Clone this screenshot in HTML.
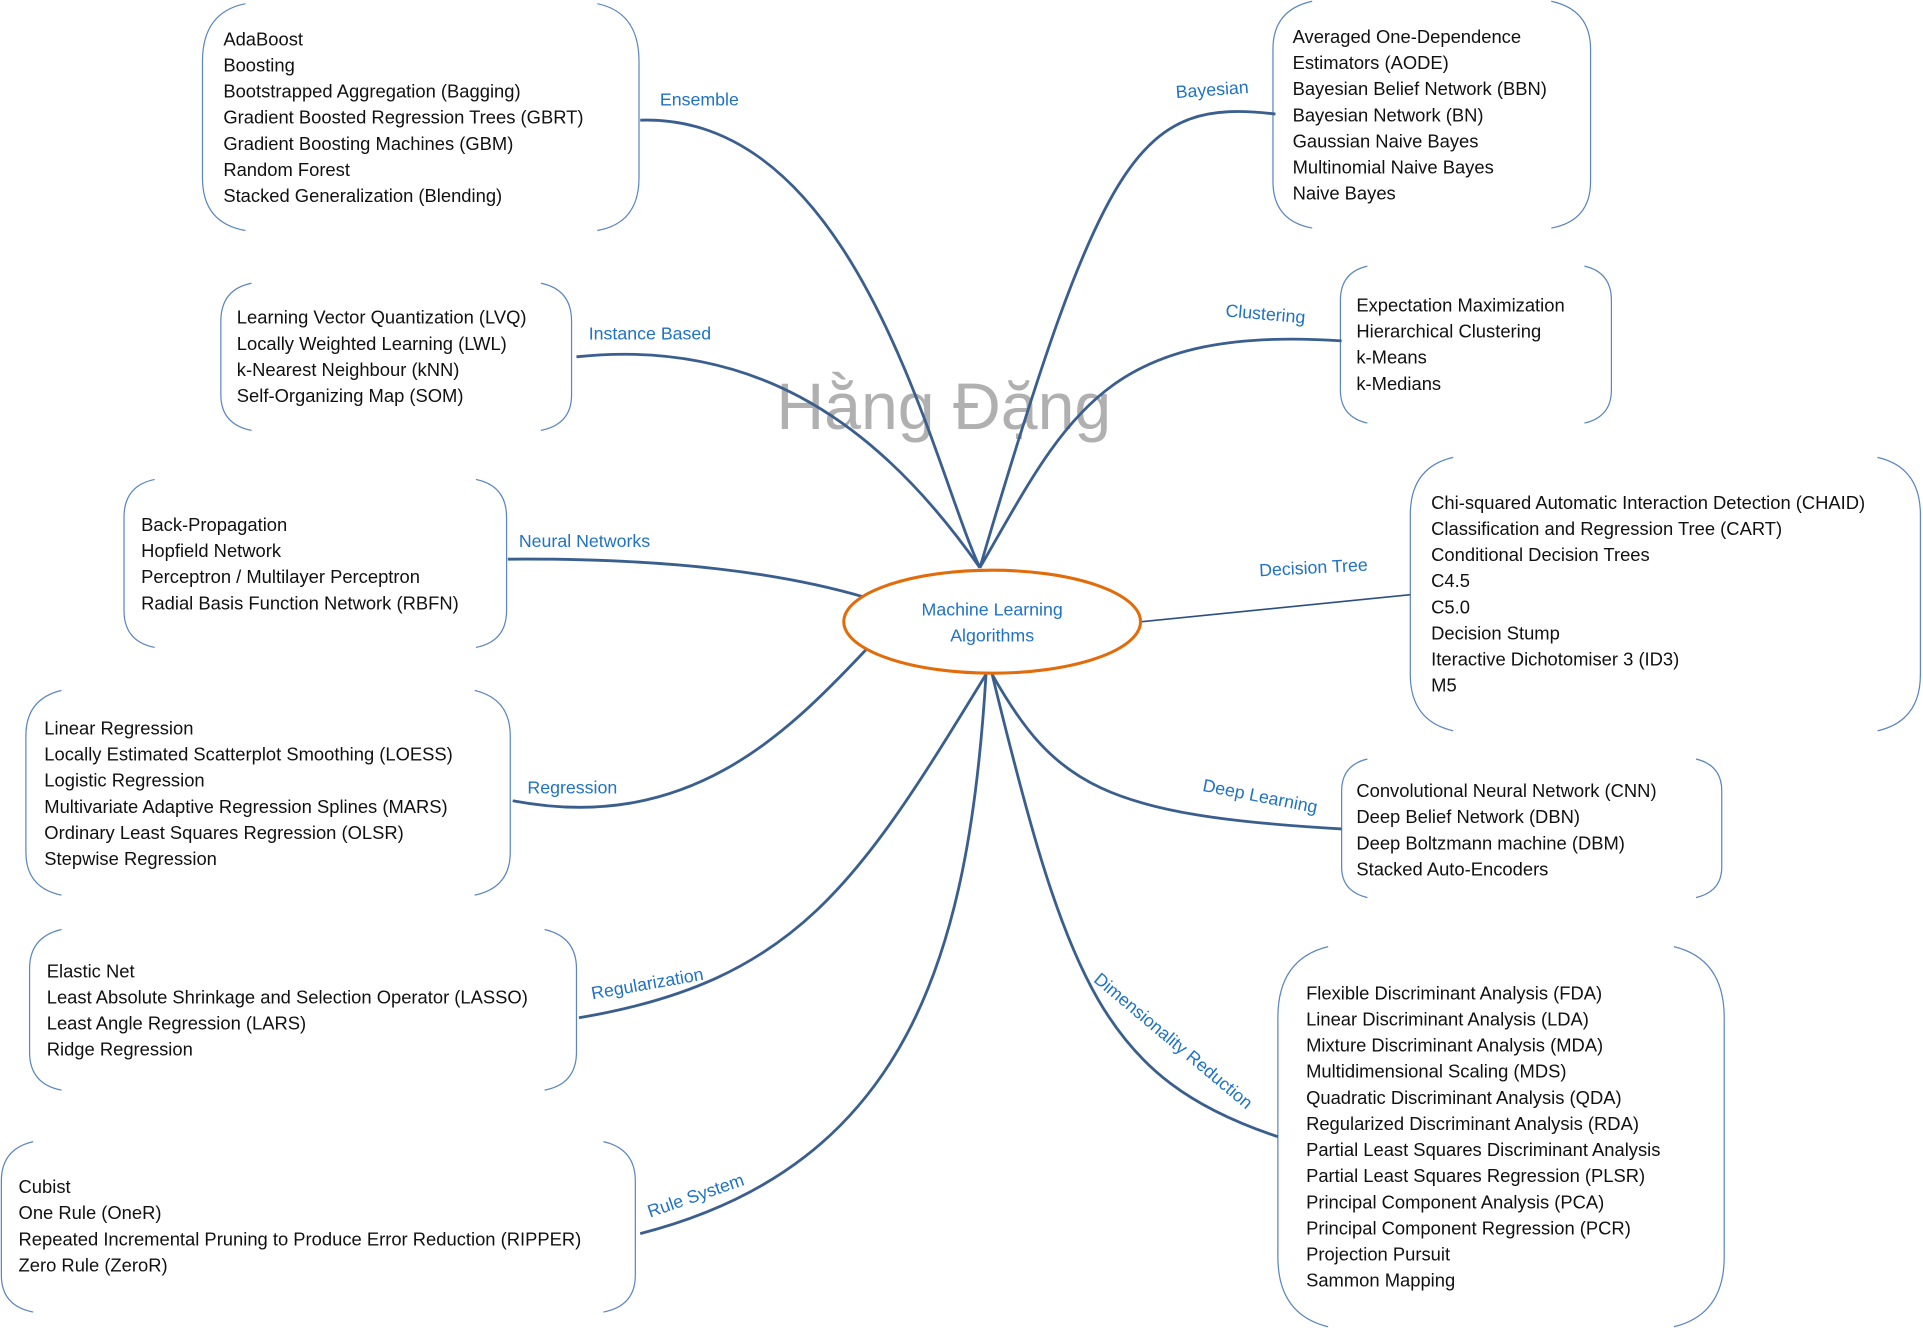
<!DOCTYPE html>
<html><head><meta charset="utf-8"><style>
html,body{margin:0;padding:0;background:#fff}
svg{display:block}
.t{font-family:"Liberation Sans",sans-serif;font-size:15px;fill:#111}
.l{font-family:"Liberation Sans",sans-serif;font-size:14.5px;fill:#1f72c4}
.b{fill:none;stroke:#5b86c0;stroke-width:1}
.c{fill:none;stroke:#3a5f8f;stroke-width:2.3}
</style></head><body>
<svg width="1923" height="1328" viewBox="0 0 1568 1083" xmlns="http://www.w3.org/2000/svg">
<text x="633" y="350" style="font-family:'Liberation Sans',sans-serif;font-size:54px;fill:#b0b0b0">Hằng Đặng</text>

<g class="b">
<path d="M200,3 Q165,10 165,50 L165,145 Q165,182 200,188 M487,3 Q521,10 521,50 L521,145 Q521,182 487,188"/>
<path d="M205,231 Q180,236 180,262 L180,322 Q180,346 205,351 M441,231 Q466,236 466,262 L466,322 Q466,346 441,351"/>
<path d="M126,391 Q101,396 101,422 L101,498 Q101,523 126,528 M388,391 Q413,396 413,422 L413,498 Q413,523 388,528"/>
<path d="M50,563 Q21,570 21,600 L21,695 Q21,724 50,730 M387,563 Q416,570 416,600 L416,695 Q416,724 387,730"/>
<path d="M50,758 Q24,764 24,790 L24,858 Q24,884 50,889 M444,758 Q470,764 470,790 L470,858 Q470,884 444,889"/>
<path d="M27,931 Q1,937 1,963 L1,1040 Q1,1065 27,1070 M492,931 Q518,937 518,963 L518,1040 Q518,1065 492,1070"/>
<path d="M1070,1 Q1038,8 1038,40 L1038,148 Q1038,180 1070,186 M1265,1 Q1297,8 1297,40 L1297,148 Q1297,180 1265,186"/>
<path d="M1115,217 Q1093,222 1093,245 L1093,318 Q1093,340 1115,345 M1292,217 Q1314,222 1314,245 L1314,318 Q1314,340 1292,345"/>
<path d="M1185,373 Q1150,381 1150,420 L1150,550 Q1150,588 1185,596 M1531,373 Q1566,381 1566,420 L1566,550 Q1566,588 1531,596"/>
<path d="M1115,619 Q1094,624 1094,645 L1094,707 Q1094,727 1115,732 M1383,619 Q1404,624 1404,645 L1404,707 Q1404,727 1383,732"/>
<path d="M1083,772 Q1042,782 1042,830 L1042,1025 Q1042,1072 1083,1082 M1365,772 Q1406,782 1406,830 L1406,1025 Q1406,1072 1365,1082"/>
</g>

<g class="c">
<path d="M522,98 C700,92 760,380 799,463"/>
<path d="M470,291 C620,275 720,350 799,463"/>
<path d="M414,456 C550,455 640,468 705,487"/>
<path d="M418,653 C560,680 640,600 706,530"/>
<path d="M472,830 C650,800 700,720 804,550"/>
<path d="M522,1006 C740,950 790,780 804,550"/>
<path d="M1040,93 C930,80 900,120 799,463"/>
<path d="M1094,278 C900,265 870,340 799,463"/>
<path d="M1094,676 C900,665 860,640 809,550"/>
<path d="M1042,927 C900,880 870,800 809,550"/>
</g>
<path d="M931,507 L1150,485" stroke="#2c4f80" stroke-width="1.3" fill="none"/>
<ellipse cx="809" cy="507" rx="121" ry="42" fill="#fff" stroke="#e36c0a" stroke-width="2.5"/>
<text class="l" x="809" y="502" text-anchor="middle">Machine Learning</text>
<text class="l" x="809" y="523" text-anchor="middle">Algorithms</text>

<text class="l" x="538" y="86">Ensemble</text>
<text class="l" x="480" y="277">Instance Based</text>
<text class="l" x="423" y="446">Neural Networks</text>
<text class="l" x="430" y="647">Regression</text>
<text class="l" x="483" y="815" transform="rotate(-10 483 815)">Regularization</text>
<text class="l" x="530" y="993" transform="rotate(-19 530 993)">Rule System</text>
<text class="l" x="959" y="80" transform="rotate(-4 959 80)">Bayesian</text>
<text class="l" x="999" y="258" transform="rotate(5 999 258)">Clustering</text>
<text class="l" x="1027" y="470" transform="rotate(-3 1027 470)">Decision Tree</text>
<text class="l" x="980" y="645" transform="rotate(11 980 645)">Deep Learning</text>
<text class="l" x="891" y="800" transform="rotate(40 891 800)">Dimensionality Reduction</text>

<text class="t" x="182" y="37">AdaBoost<tspan x="182" dy="21.3">Boosting</tspan><tspan x="182" dy="21.3">Bootstrapped Aggregation (Bagging)</tspan><tspan x="182" dy="21.3">Gradient Boosted Regression Trees (GBRT)</tspan><tspan x="182" dy="21.3">Gradient Boosting Machines (GBM)</tspan><tspan x="182" dy="21.3">Random Forest</tspan><tspan x="182" dy="21.3">Stacked Generalization (Blending)</tspan></text>
<text class="t" x="193" y="264">Learning Vector Quantization (LVQ)<tspan x="193" dy="21.3">Locally Weighted Learning (LWL)</tspan><tspan x="193" dy="21.3">k-Nearest Neighbour (kNN)</tspan><tspan x="193" dy="21.3">Self-Organizing Map (SOM)</tspan></text>
<text class="t" x="115" y="433">Back-Propagation<tspan x="115" dy="21.3">Hopfield Network</tspan><tspan x="115" dy="21.3">Perceptron / Multilayer Perceptron</tspan><tspan x="115" dy="21.3">Radial Basis Function Network (RBFN)</tspan></text>
<text class="t" x="36" y="599">Linear Regression<tspan x="36" dy="21.3">Locally Estimated Scatterplot Smoothing (LOESS)</tspan><tspan x="36" dy="21.3">Logistic Regression</tspan><tspan x="36" dy="21.3">Multivariate Adaptive Regression Splines (MARS)</tspan><tspan x="36" dy="21.3">Ordinary Least Squares Regression (OLSR)</tspan><tspan x="36" dy="21.3">Stepwise Regression</tspan></text>
<text class="t" x="38" y="797">Elastic Net<tspan x="38" dy="21.3">Least Absolute Shrinkage and Selection Operator (LASSO)</tspan><tspan x="38" dy="21.3">Least Angle Regression (LARS)</tspan><tspan x="38" dy="21.3">Ridge Regression</tspan></text>
<text class="t" x="15" y="973">Cubist<tspan x="15" dy="21.3">One Rule (OneR)</tspan><tspan x="15" dy="21.3">Repeated Incremental Pruning to Produce Error Reduction (RIPPER)</tspan><tspan x="15" dy="21.3">Zero Rule (ZeroR)</tspan></text>
<text class="t" x="1054" y="35">Averaged One-Dependence<tspan x="1054" dy="21.3">Estimators (AODE)</tspan><tspan x="1054" dy="21.3">Bayesian Belief Network (BBN)</tspan><tspan x="1054" dy="21.3">Bayesian Network (BN)</tspan><tspan x="1054" dy="21.3">Gaussian Naive Bayes</tspan><tspan x="1054" dy="21.3">Multinomial Naive Bayes</tspan><tspan x="1054" dy="21.3">Naive Bayes</tspan></text>
<text class="t" x="1106" y="254">Expectation Maximization<tspan x="1106" dy="21.3">Hierarchical Clustering</tspan><tspan x="1106" dy="21.3">k-Means</tspan><tspan x="1106" dy="21.3">k-Medians</tspan></text>
<text class="t" x="1167" y="415">Chi-squared Automatic Interaction Detection (CHAID)<tspan x="1167" dy="21.3">Classification and Regression Tree (CART)</tspan><tspan x="1167" dy="21.3">Conditional Decision Trees</tspan><tspan x="1167" dy="21.3">C4.5</tspan><tspan x="1167" dy="21.3">C5.0</tspan><tspan x="1167" dy="21.3">Decision Stump</tspan><tspan x="1167" dy="21.3">Iteractive Dichotomiser 3 (ID3)</tspan><tspan x="1167" dy="21.3">M5</tspan></text>
<text class="t" x="1106" y="650">Convolutional Neural Network (CNN)<tspan x="1106" dy="21.3">Deep Belief Network (DBN)</tspan><tspan x="1106" dy="21.3">Deep Boltzmann machine (DBM)</tspan><tspan x="1106" dy="21.3">Stacked Auto-Encoders</tspan></text>
<text class="t" x="1065" y="815">Flexible Discriminant Analysis (FDA)<tspan x="1065" dy="21.3">Linear Discriminant Analysis (LDA)</tspan><tspan x="1065" dy="21.3">Mixture Discriminant Analysis (MDA)</tspan><tspan x="1065" dy="21.3">Multidimensional Scaling (MDS)</tspan><tspan x="1065" dy="21.3">Quadratic Discriminant Analysis (QDA)</tspan><tspan x="1065" dy="21.3">Regularized Discriminant Analysis (RDA)</tspan><tspan x="1065" dy="21.3">Partial Least Squares Discriminant Analysis</tspan><tspan x="1065" dy="21.3">Partial Least Squares Regression (PLSR)</tspan><tspan x="1065" dy="21.3">Principal Component Analysis (PCA)</tspan><tspan x="1065" dy="21.3">Principal Component Regression (PCR)</tspan><tspan x="1065" dy="21.3">Projection Pursuit</tspan><tspan x="1065" dy="21.3">Sammon Mapping</tspan></text>
</svg>
</body></html>
